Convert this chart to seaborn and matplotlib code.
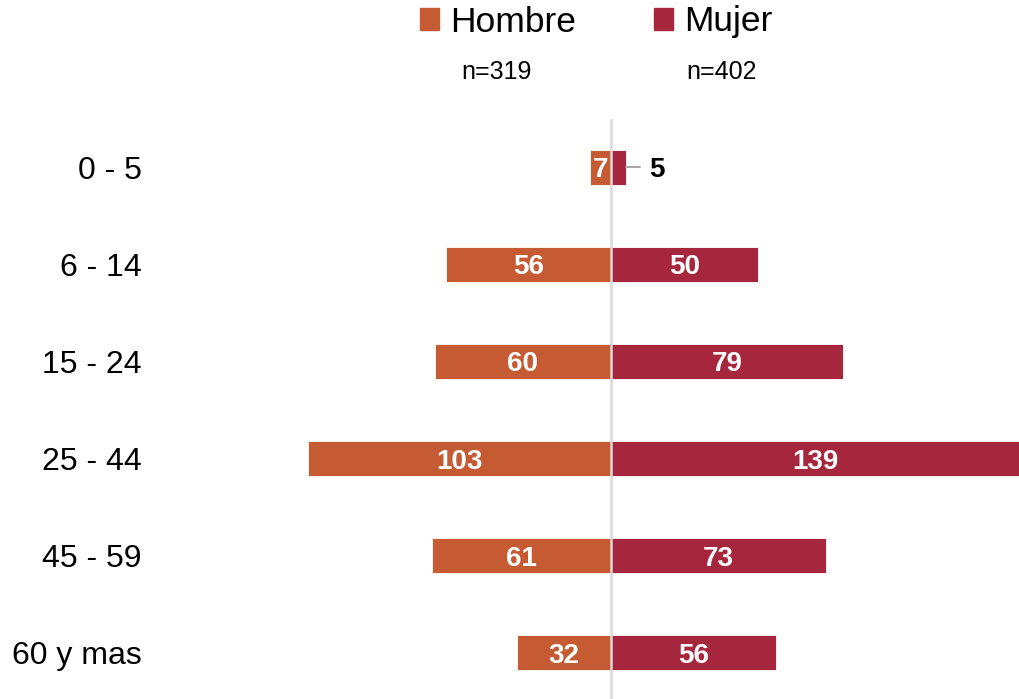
import pandas as pd
import numpy as np
import seaborn as sns
import matplotlib.pyplot as plt
from matplotlib.patches import Patch

sns.set_style('white')
plt.rcParams['font.family'] = ['Liberation Sans', 'DejaVu Sans']
plt.rcParams['text.color'] = 'black'
plt.rcParams['ytick.color'] = 'black'

grupos = ["0 - 5", "6 - 14", "15 - 24", "25 - 44", "45 - 59", "60 y mas"]
hombre = [7, 56, 60, 103, 61, 32]
mujer = [5, 50, 79, 139, 73, 56]
n_hombre = 319
n_mujer = 402

c_hombre = "#C55A33"
c_mujer = "#A6263E"

df = pd.DataFrame({"grupo": grupos, "Hombre": hombre, "Mujer": mujer})
df["Hombre_neg"] = -df["Hombre"]

fig = plt.figure(figsize=(10.19, 6.99), dpi=100)
ax = fig.add_axes([150 / 1019, 0, 869 / 1019, 580 / 699])

sns.barplot(data=df, y="grupo", x="Hombre_neg", order=grupos, color=c_hombre,
            saturation=1, width=0.36, orient="h", edgecolor="white", linewidth=0.6, ax=ax)
sns.barplot(data=df, y="grupo", x="Mujer", order=grupos, color=c_mujer,
            saturation=1, width=0.36, orient="h", edgecolor="white", linewidth=0.6, ax=ax)

ax.axvline(0, color="#D9D9D9", lw=1.8, zorder=5)

# etiquetas de valores
for i, (h, m) in enumerate(zip(hombre, mujer)):
    ax.text(-h / 2, i, str(h), ha="center", va="center_baseline", color="white",
            fontsize=20, fontweight="bold", zorder=6)
    if m >= 8:
        ax.text(m / 2, i, str(m), ha="center", va="center_baseline", color="white",
                fontsize=20, fontweight="bold", zorder=6)
    else:
        ax.plot([m, m + 5], [i, i], color="#A6A6A6", lw=1.4, zorder=6)
        ax.text(m + 10.5, i, str(m), ha="center", va="center_baseline", color="black",
                fontsize=20, fontweight="bold", zorder=6)

ax.set_xlim(-(611 - 150) / 2.94, 408 / 2.94)
ax.set_ylim(5.474, -0.495)
ax.set_xlabel("")
ax.set_ylabel("")
ax.set_xticks([])
ax.tick_params(axis="y", length=0, pad=5.8, labelsize=23, labelcolor="black")
for s in ax.spines.values():
    s.set_visible(False)

handles = [Patch(color=c_hombre, label="Hombre"), Patch(color=c_mujer, label="Mujer")]
fig.legend(handles=handles, loc="center", bbox_to_anchor=(596 / 1019, 1 - 22 / 699),
           ncol=2, frameon=False, fontsize=25.5, handlelength=0.55, handleheight=0.55,
           handletextpad=0.3, columnspacing=2.2, borderpad=0, labelcolor="black")

fig.text(497 / 1019, 1 - 72 / 699, f"n={n_hombre}", ha="center", va="center", fontsize=18)
fig.text(722 / 1019, 1 - 72 / 699, f"n={n_mujer}", ha="center", va="center", fontsize=18)

fig.savefig("out.png", dpi=100, facecolor="white")
